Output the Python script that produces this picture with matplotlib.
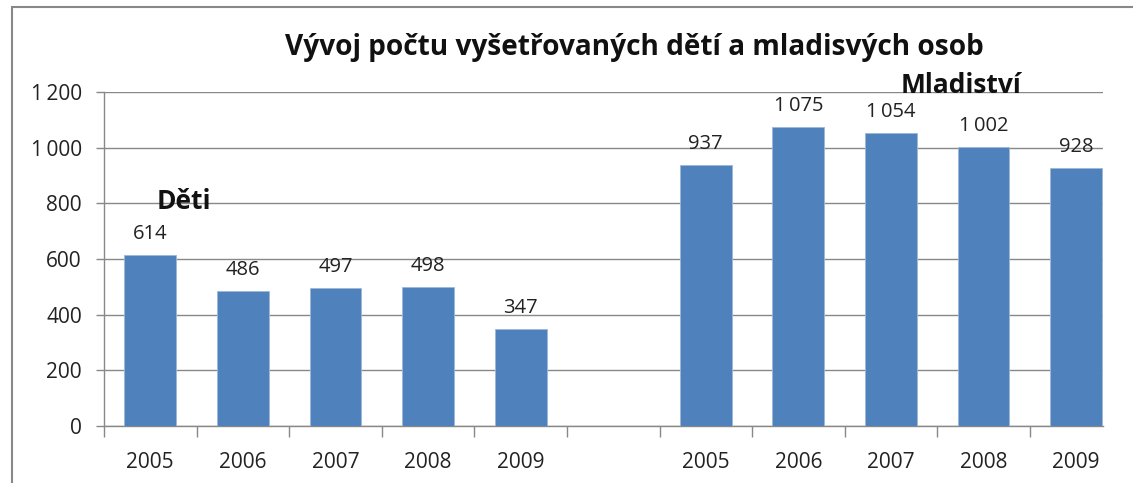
import matplotlib
matplotlib.use("Agg")
import matplotlib.pyplot as plt
from matplotlib.patches import Rectangle
from matplotlib.ticker import FuncFormatter, FixedLocator

years = ["2005", "2006", "2007", "2008", "2009"]
deti = [614, 486, 497, 498, 347]
mladistvi = [937, 1075, 1054, 1002, 928]
title = "Vývoj počtu vyšetřovaných dětí a mladisvých osob"
group_labels = ["Děti", "Mladiství"]

plt.rcParams['font.family'] = ['Open Sans', 'DejaVu Sans']

W, H = 1133, 483
fig = plt.figure(figsize=(W / 100, H / 100), dpi=100)
ax = fig.add_axes([104 / W, 1 - 426 / H, (1103 - 104) / W, (426 - 92) / H])

blue = "#4F81BD"
grid = "#888888"
x_deti = list(range(len(deti)))
x_ml = [i + len(deti) + 1 for i in range(len(mladistvi))]
values = deti + mladistvi
xs = x_deti + x_ml

ax.bar(xs, values, width=0.56, color=blue, edgecolor="#9DB7DA", linewidth=0.6, zorder=3)

def fmt(v):
    return f"{int(v):,}".replace(",", "\u2009")

for x, v in zip(xs, values):
    ax.annotate(fmt(v), (x, v), xytext=(0, 8), textcoords="offset points",
                ha="center", va="bottom", fontsize=14.5, color="#222222")

ax.set_ylim(0, 1200)
ax.set_xlim(-0.5, 10.29)
ax.set_yticks(range(0, 1201, 200))
ax.yaxis.set_major_formatter(FuncFormatter(lambda v, p: fmt(v)))
ax.yaxis.grid(True, color=grid, linewidth=1.0, zorder=0)
ax.set_axisbelow(True)

ax.set_xticks(xs)
ax.set_xticklabels(years + years)
ax.xaxis.set_minor_locator(FixedLocator([i - 0.5 for i in range(11)]))
ax.tick_params(axis="x", which="major", length=0, pad=19, labelsize=15, labelcolor="#222222")
ax.tick_params(axis="x", which="minor", length=8, width=1, color=grid, direction="out")
ax.tick_params(axis="y", which="major", length=6, width=1, color=grid, pad=10, labelsize=15, labelcolor="#222222")

for s in ["top", "right"]:
    ax.spines[s].set_visible(False)
for s in ["left", "bottom"]:
    ax.spines[s].set_color(grid)
    ax.spines[s].set_linewidth(1)

ax.text(0.36, 806, group_labels[0], ha="center", va="center", fontsize=19, fontweight="bold", color="#111111")
ax.text(8.76, 1224, group_labels[1], ha="center", va="center", fontsize=19, fontweight="bold", color="#111111", clip_on=False)

fig.text(634 / W, 1 - 47 / H, title, ha="center", va="center", fontsize=20.2, fontweight="bold", color="#111111")

# outer frame
fig.patches.append(Rectangle((12 / W, -0.1), 1.2, 1 - 7 / H + 0.1, transform=fig.transFigure,
                             fill=False, edgecolor="#888888", linewidth=1.5))

fig.savefig("out.png", dpi=100)
